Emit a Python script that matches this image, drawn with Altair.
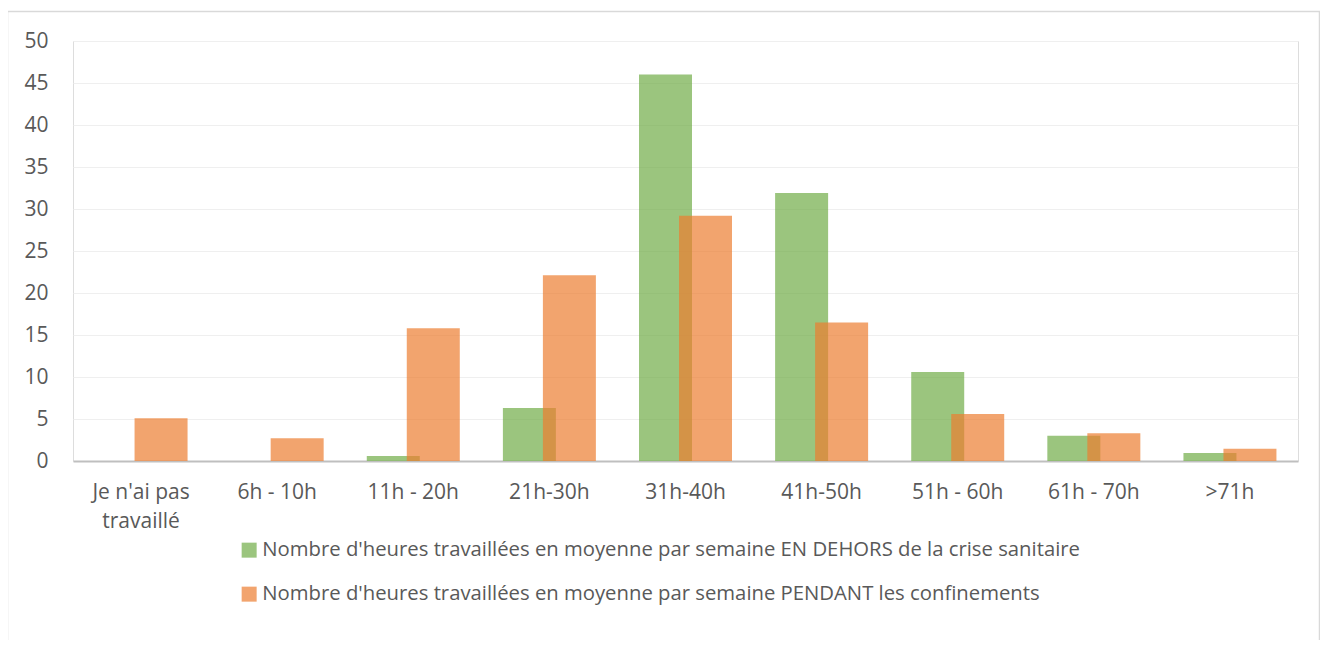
import altair as alt
import pandas as pd

categories = ["Je n'ai pas travaillé", "6h - 10h", "11h - 20h", "21h-30h", "31h-40h",
              "41h-50h", "51h - 60h", "61h - 70h", ">71h"]
series_names = [
    "Nombre d'heures travaillées en moyenne par semaine EN DEHORS de la crise sanitaire",
    "Nombre d'heures travaillées en moyenne par semaine PENDANT les confinements",
]
outside_values = [0, 0, 0.6, 6.3, 46.0, 31.9, 10.6, 3.0, 0.95]
during_values = [5.1, 2.7, 15.8, 22.1, 29.2, 16.5, 5.6, 3.3, 1.45]
y_ticks = [0, 5, 10, 15, 20, 25, 30, 35, 40, 45, 50]
colors = ["#70AD47", "#ED7D31"]

rows = []
for c, a, b in zip(categories, outside_values, during_values):
    rows.append({"cat": c, "series": series_names[0], "value": a})
    rows.append({"cat": c, "series": series_names[1], "value": b})
df = pd.DataFrame(rows)

FONT = "Open Sans"
TXT = "#595959"

x_enc = alt.X(
    "cat:N",
    sort=categories,
    title=None,
    scale=alt.Scale(paddingInner=0, paddingOuter=0),
    axis=alt.Axis(
        labelAngle=0,
        ticks=False,
        grid=False,
        domainColor="#BFBFBF",
        domainWidth=2,
        labelFont=FONT,
        labelFontSize=21,
        labelColor=TXT,
        labelPadding=20,
        labelLineHeight=29,
        labelLimit=0,
        labelExpr='datum.label == "Je n\'ai pas travaillé" ? ["Je n\'ai pas", "travaillé"] : datum.label',
    ),
)
y_enc = alt.Y(
    "value:Q",
    title=None,
    scale=alt.Scale(domain=[0, 50], nice=False),
    axis=alt.Axis(
        values=y_ticks,
        domain=False,
        ticks=False,
        gridColor="#EFEFEF",
        gridWidth=1.2,
        labelFont=FONT,
        labelFontSize=21,
        labelColor=TXT,
        labelPadding=25,
    ),
)
color_enc = alt.Color(
    "series:N",
    title=None,
    scale=alt.Scale(domain=series_names, range=colors),
    legend=alt.Legend(
        orient="none",
        legendX=166,
        legendY=499,
        direction="vertical",
        symbolType="square",
        symbolSize=225,
        symbolOpacity=0.7,
        symbolStrokeWidth=0,
        labelFont=FONT,
        labelFontSize=20.3,
        labelColor=TXT,
        labelLimit=0,
        labelOffset=3,
        rowPadding=23,
        padding=0,
    ),
)

base = alt.Chart(df)
green = base.transform_filter(alt.datum.series == series_names[0]).mark_bar(
    width=53, xOffset=-20, opacity=0.7
).encode(x=x_enc, y=y_enc, color=color_enc)
orange = base.transform_filter(alt.datum.series == series_names[1]).mark_bar(
    width=53, xOffset=20, opacity=0.7
).encode(x=x_enc, y=y_enc, color=color_enc)

frame = alt.Chart(pd.DataFrame({"a": [0]})).mark_rect(
    fill="transparent", stroke="#D9D9D9", strokeWidth=1.5
).encode(
    x=alt.value(-65.5), x2=alt.value(1246.5), y=alt.value(-29.5), y2=alt.value(640)
)

chart = alt.layer(frame, green, orange).properties(
    width=1225,
    height=420,
    padding={"left": 65, "top": 33, "right": 22, "bottom": 179},
    autosize=alt.AutoSizeParams(type="none"),
).configure_view(strokeWidth=0, stroke="transparent").configure(background="white")

chart.save("out.html", embed_options={"renderer": "svg", "actions": False})
